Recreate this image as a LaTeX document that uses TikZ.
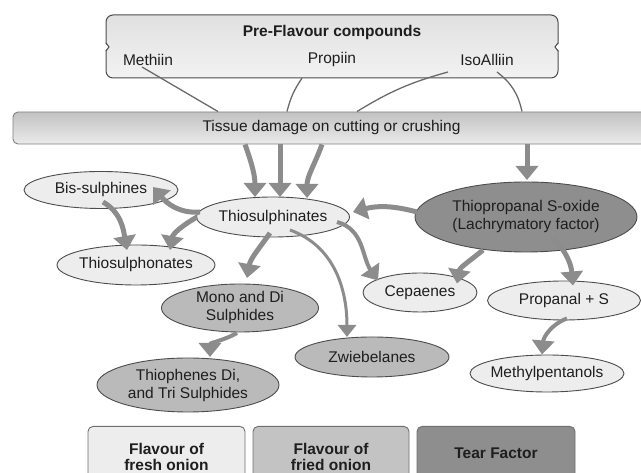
\documentclass[tikz,border=0pt]{standalone}
\usepackage{fontspec}
\setmainfont{Liberation Sans}
\usetikzlibrary{shapes.geometric,arrows.meta,calc}
\definecolor{txt}{HTML}{1E1E1E}
\definecolor{ebord}{HTML}{4C4C4C}
\definecolor{lightf}{HTML}{EDEDED}
\definecolor{medf}{HTML}{BABABA}
\definecolor{darkf}{HTML}{8E8E8E}
\definecolor{arrowc}{HTML}{8C8C8C}
\definecolor{thinc}{HTML}{6A6A6A}
\definecolor{lbord}{HTML}{6E6E6E}
\definecolor{friedf}{HTML}{C3C3C3}
\newcommand\myfs{\fontsize{15.5}{18}\selectfont}
\newcommand\legfs{\fontsize{15.5}{16}\selectfont}
\begin{document}
\begin{tikzpicture}[x=1pt,y=1pt,
  lab/.style={font=\myfs, text=txt, inner sep=0pt},
  ell/.style={ellipse, draw=ebord, line width=0.9pt, inner xsep=-30pt, inner ysep=-4pt, align=center, font=\myfs, text=txt},
  light/.style={ell, fill=lightf},
  medium/.style={ell, fill=medf},
  dark/.style={ell, fill=darkf},
  legend/.style={rectangle, rounded corners=5pt, draw=lbord, line width=0.9pt, align=center, font=\legfs\bfseries, text=txt, anchor=north},
  flow/.style={draw=arrowc, line width=5pt, -{Triangle[width=22pt,length=14pt]}},
  flowthin/.style={draw=arrowc, line width=3pt, -{Triangle[width=18pt,length=12pt]}},
  feed/.style={draw=thinc, line width=1.3pt}
]
\useasboundingbox (0,0) rectangle (641,473);
\clip (0,0) rectangle (641,473);

% pre-flavour box
\draw[draw=ebord, line width=1pt, top color=black!12, bottom color=black!5, rounded corners=7pt] (106,395) rectangle (558,458);
\fill[white] (559.5,430) -- (555,426) -- (559.5,422) -- cycle;
\draw[ebord, line width=1pt] (558,430) -- (555,426) -- (558,422);
\fill[white] (104.5,430) -- (109,426) -- (104.5,422) -- cycle;
\draw[ebord, line width=1pt] (106,430) -- (109,426) -- (106,422);
\node[rectangle, minimum width=452pt, minimum height=63pt, inner sep=0pt] (pre) at (332,426.5) {};
\node[lab, font=\myfs\bfseries] (title) at (332,440) {Pre-Flavour compounds};
\node[lab] (methiin) at (148,413) {Methiin};
\node[lab] (propiin) at (332,413) {Propiin};
\node[lab] (iso) at (487,413) {IsoAlliin};

% tissue bar
\node[rectangle, rounded corners=5pt, draw=black!50, line width=0.9pt, top color=black!24, bottom color=black!8, minimum width=637pt, minimum height=32pt, font=\myfs, text=txt] (bar) at (331.5,345) {Tissue damage on cutting or crushing};

% ellipses
\node[light, minimum width=154pt, minimum height=37pt] (bis) at (101,283) {Bis-sulphines};
\node[light, minimum width=153pt, minimum height=40pt] (thsn) at (273,256) {Thiosulphinates};
\node[light, minimum width=158pt, minimum height=40pt] (thso) at (136,208) {Thiosulphonates};
\node[medium, minimum width=157pt, minimum height=48pt] (mono) at (240,165) {Mono and Di\\Sulphides};
\node[medium, minimum width=182pt, minimum height=54pt] (thioph) at (188,88) {Thiophenes Di,\\and Tri Sulphides};
\node[medium, minimum width=154pt, minimum height=40pt] (zwieb) at (372,116) {Zwiebelanes};
\node[light, minimum width=154pt, minimum height=37pt] (methyl) at (547,99.5) {Methylpentanols};
\node[light, minimum width=153pt, minimum height=39pt] (propanal) at (564,172.5) {Propanal + S};
\node[light, minimum width=114pt, minimum height=39pt] (cepa) at (420,180.5) {Cepaenes};
\node[dark, minimum width=222pt, minimum height=70pt] (thiop) at (526,256) {Thiopropanal S-oxide\\(Lachrymatory factor)};

% legend
\node[legend, fill=lightf, minimum width=157pt, minimum height=62pt] (fresh) at (166.5,47) {Flavour of\\fresh onion};
\node[legend, fill=friedf, minimum width=156pt, minimum height=62pt] (fried) at (331,47) {Flavour of\\fried onion};
\node[legend, fill=darkf, minimum width=158pt, minimum height=54pt] (tear) at (496,47) {Tear Factor};

% feed lines
\draw[feed] ($(methiin.center)+(-6,-7)$) -- (218,0 |- bar.north);
\draw[feed] ($(pre.south)+(-30,0)$) to[bend right=10] (287,0 |- bar.north);
\draw[feed] ($(iso.center)+(-39,-12)$) to[bend right=8] (357,0 |- bar.north);
\draw[feed] ($(iso.center)+(10,-12)$) to[bend left=20] (522,0 |- bar.north);

% flows from the bar
\draw[flow] (245,0 |- bar.south) to[out=-70,in=90] ($(thsn.center)+(-18,20)$);
\draw[flow] (280,0 |- bar.south) -- ($(thsn.center)+(7,20)$);
\draw[flow] (322,0 |- bar.south) to[out=-110,in=90] ($(thsn.center)+(34,19)$);
\draw[flow] (527,0 |- bar.south) -- ($(thiop.center)+(1,37)$);

% reactions
\draw[flow] ($(thsn.center)+(-73,5)$) to[out=185,in=-50] ($(bis.center)+(52,3)$);
\draw[flow] ($(bis.center)+(2,-12)$) to[out=-30,in=100] ($(thso.center)+(-9,15)$);
\draw[flow] ($(thsn.center)+(-76,0)$) to[out=210,in=80] ($(thso.center)+(34,15)$);
\draw[flow] ($(thsn.center)+(-3,-16)$) to[out=-125,in=80] ($(mono.center)+(7,30)$);
\draw[flow, line width=4pt] ($(thsn.center)+(64,-5)$) to[out=-15,in=125] ($(cepa.center)+(-42,12)$);
\draw[flowthin] ($(thsn.center)+(17,-13)$) to[out=-20,in=90] ($(zwieb.center)+(-25,20)$);
\draw[flow] ($(thiop.center)+(-109,5)$) to[out=165,in=15] ($(thsn.center)+(80,5)$);
\draw[flow] ($(thiop.center)+(-43,-33)$) to[out=-140,in=80] ($(cepa.center)+(37,9)$);
\draw[flow] ($(thiop.center)+(27,-21)$) to[out=-45,in=95] ($(propanal.center)+(9,15)$);
\draw[flow, line width=4pt] ($(propanal.center)+(3,-18)$) to[out=-160,in=85] ($(methyl.center)+(-5,19)$);
\draw[flow, line width=4pt] ($(mono.center)+(-3,-25)$) to[out=-150,in=90] ($(thioph.center)+(22,28)$);
\end{tikzpicture}
\end{document}
